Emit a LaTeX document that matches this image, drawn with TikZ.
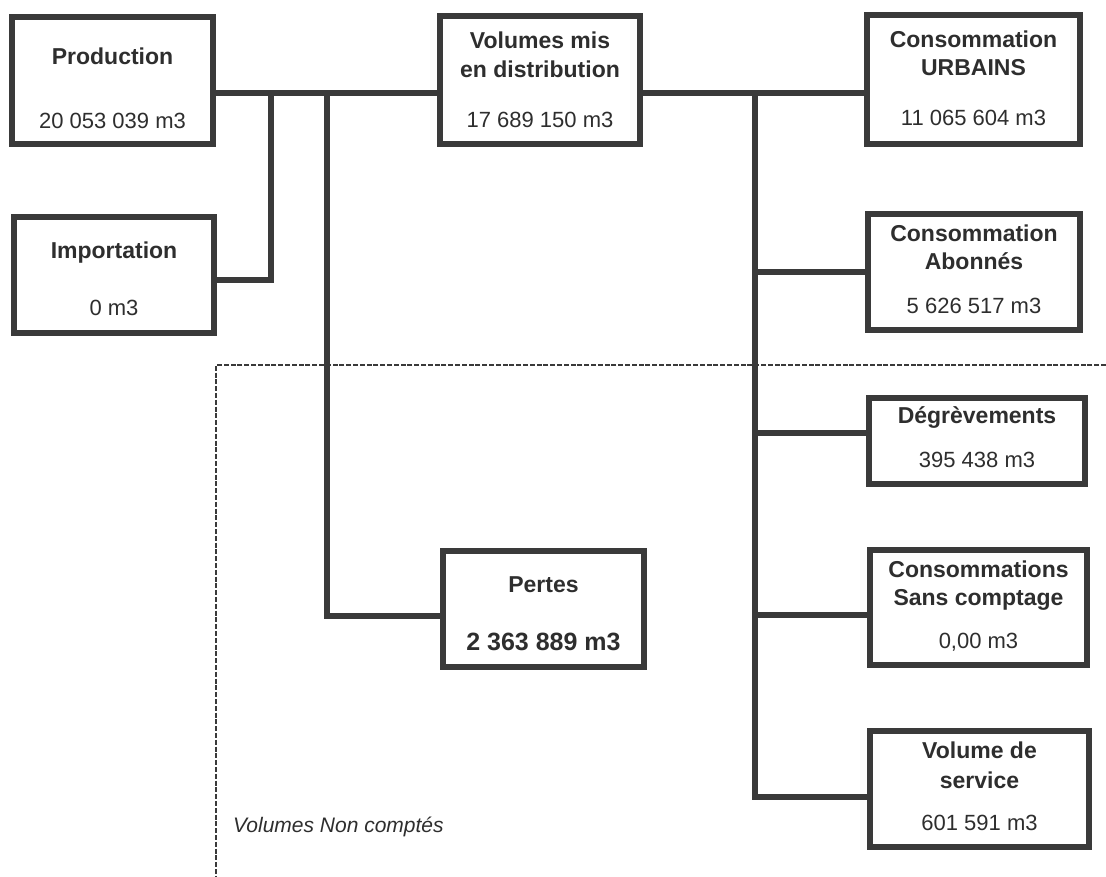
\documentclass[tikz,border=0pt]{standalone}
\usepackage{fontspec}
\setmainfont{Liberation Sans}
\definecolor{linec}{HTML}{3A3A3A}
\definecolor{textc}{HTML}{2E2E2E}
\begin{document}
\begin{tikzpicture}[x=1pt,y=-1pt,
  box/.style={draw=linec, line width=6pt, fill=white, rectangle, inner sep=0pt},
  conn/.style={draw=linec, line width=6pt},
  dashline/.style={draw=linec, line width=1.4pt, dash pattern=on 5pt off 1.8pt},
  ttl/.style={anchor=base, inner sep=0pt, text=textc, font=\fontsize{23}{28}\selectfont\bfseries},
  val/.style={anchor=base, inner sep=0pt, text=textc, font=\fontsize{22}{26}\selectfont},
  bval/.style={anchor=base, inner sep=0pt, text=textc, font=\fontsize{25}{30}\selectfont\bfseries},
  note/.style={anchor=base west, inner sep=0pt, text=textc, font=\fontsize{21}{25}\selectfont\itshape}]
\useasboundingbox (0,0) rectangle (1106,876);
\fill[white] (0,0) rectangle (1106,876);

% dashed zone
\coordinate (dC) at (216,365);
\coordinate (dR) at (1106,365);
\coordinate (dB) at (216,876);
\draw[dashline] (dR) -- (dC) -- (dB);

% boxes
\node[box, minimum width=201pt, minimum height=127pt] (prod)   at (112.5,80.5) {};
\node[box, minimum width=200pt, minimum height=116pt] (imp)    at (114,275) {};
\node[box, minimum width=200pt, minimum height=128pt] (vol)    at (540,80) {};
\node[box, minimum width=213pt, minimum height=129pt] (urb)    at (973.5,79.5) {};
\node[box, minimum width=212pt, minimum height=116pt] (abo)    at (974,272) {};
\node[box, minimum width=216pt, minimum height=86pt]  (deg)    at (977,441) {};
\node[box, minimum width=217pt, minimum height=115pt] (sans)   at (978.5,607.5) {};
\node[box, minimum width=219pt, minimum height=116pt] (serv)   at (979.5,789) {};
\node[box, minimum width=201pt, minimum height=116pt] (pertes) at (543.5,609) {};

% texts
\node[ttl] (prodT) at (112.5,64) {Production};
\node[val] (prodV) at (112.5,128) {20 053 039 m3};
\node[ttl] (impT) at (114,258) {Importation};
\node[val] (impV) at (114,315) {0 m3};
\node[ttl] (volT1) at (540,48) {Volumes mis};
\node[ttl] (volT2) at (540,77) {en distribution};
\node[val] (volV) at (540,127) {17 689 150 m3};
\node[ttl] (urbT1) at (973.5,47) {Consommation};
\node[ttl] (urbT2) at (973.5,75) {URBAINS};
\node[val] (urbV) at (973.5,125) {11 065 604 m3};
\node[ttl] (aboT1) at (974,241) {Consommation};
\node[ttl] (aboT2) at (974,269) {Abonnés};
\node[val] (aboV) at (974,313) {5 626 517 m3};
\node[ttl] (degT) at (977,423) {Dégrèvements};
\node[val] (degV) at (977,467) {395 438 m3};
\node[ttl] (sansT1) at (978.5,577) {Consommations};
\node[ttl] (sansT2) at (978.5,605) {Sans comptage};
\node[val] (sansV) at (978.5,648) {0,00 m3};
\node[ttl] (servT1) at (979.5,758) {Volume de};
\node[ttl] (servT2) at (979.5,788) {service};
\node[val] (servV) at (979.5,830) {601 591 m3};
\node[ttl] (pertT) at (543.5,592) {Pertes};
\node[bval] (pertV) at (543.5,650) {2 363 889 m3};
\node[note] (nc) at (233,832) {Volumes Non comptés};

% connectors
\coordinate (jA) at (271,93);
\coordinate (jB) at (327,93);
\coordinate (jC) at (755,92.5);
\coordinate (impC) at (217,280);
\coordinate (pertC) at (440,616);
\coordinate (degC) at (866,433);
\coordinate (sansC) at (867,615);
\coordinate (servC) at (867,797);

\draw[conn] (prod.east |- jA) -- (vol.west |- jA);
\draw[conn] (vol.east |- jC) -- (urb.west |- jC);
\draw[conn] (jA) |- (impC);
\draw[conn] (jB) |- (pertC);
\draw[conn] (jC) |- (servC);
\draw[conn] (jC |- abo.west) -- (abo.west);
\draw[conn] (jC |- degC) -- (degC);
\draw[conn] (jC |- sansC) -- (sansC);
\end{tikzpicture}
\end{document}
